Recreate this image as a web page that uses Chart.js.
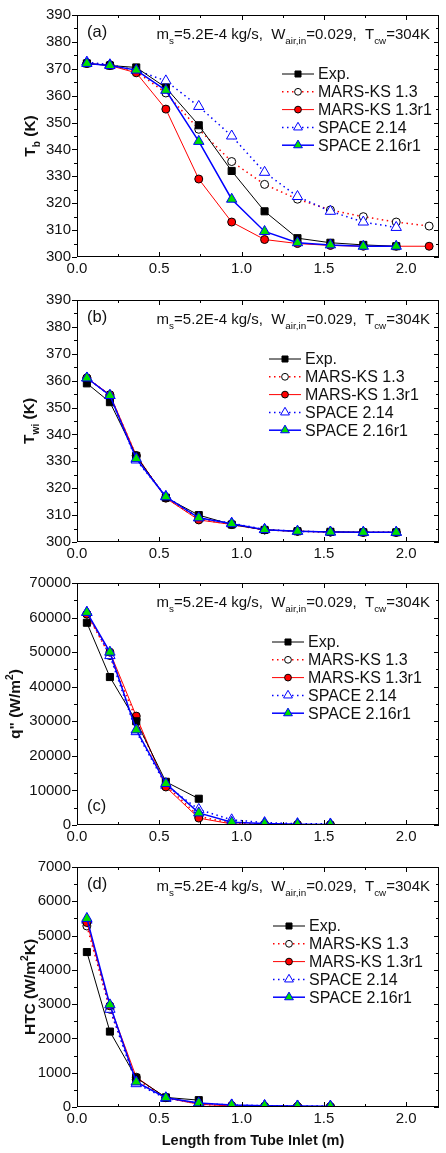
<!DOCTYPE html>
<html>
<head>
<meta charset="utf-8">
<script src="https://cdn.jsdelivr.net/npm/chart.js@4.4.1/dist/chart.umd.min.js"></script>
<style>
  body { margin: 0; background: #fff; }
  canvas { position: absolute; left: 0; }
</style>
</head>
<body>
<canvas id="chartA" width="446" height="284" style="top:0px"></canvas>
<canvas id="chartB" width="446" height="284" style="top:285px"></canvas>
<canvas id="chartC" width="446" height="284" style="top:568px"></canvas>
<canvas id="chartD" width="446" height="301" style="top:852px"></canvas>
<script>
// positions along the tube (m)
const lengths = [0.06, 0.2, 0.36, 0.54, 0.74, 0.94, 1.14, 1.34, 1.54, 1.74, 1.94, 2.14];
const xTicks = [0, 0.5, 1.0, 1.5, 2.0];
const seriesNames = ['Exp.', 'MARS-KS 1.3', 'MARS-KS 1.3r1', 'SPACE 2.14', 'SPACE 2.16r1'];

// (a) bulk temperature (K)
const tbExp = [372, 371.2, 370.5, 363, 349, 332, 317, 307, 305.3, 304.5, 304];
const tbMars13 = [372, 371.5, 369, 361, 347.5, 335.5, 327, 321.5, 317.5, 315, 313, 311.5];
const tbMars13r1 = [372, 371.2, 368.5, 355, 329, 313, 306.5, 305, 304.3, 304, 304, 304];
const tbSpace214 = [372.5, 371.5, 369.5, 365.5, 356, 345, 331.5, 322.5, 317, 313, 311];
const tbSpace216r1 = [372, 371.2, 369.5, 362, 343, 321.5, 309.5, 305.3, 304.5, 304, 304];

// (b) inner wall temperature (K)
const twExp = [359, 352, 332, 316.5, 310, 306.5, 304.5, 304, 303.8, 303.6, 303.6];
const twMars13 = [361, 354.5, 332, 316.5, 308.5, 306.5, 304.5, 304, 303.7, 303.6, 303.6];
const twMars13r1 = [361, 354.8, 332.2, 316.3, 308.2, 306.5, 304.5, 304, 303.7, 303.6, 303.6];
const twSpace214 = [361, 354.5, 330.5, 317, 309, 307, 304.7, 304, 303.7, 303.6, 303.6];
const twSpace216r1 = [361, 354.5, 331, 316.8, 309, 306.8, 304.6, 304, 303.7, 303.6, 303.6];

// (c) heat flux (W/m2)
const qExp = [58500, 42800, 30000, 12500, 7600];
const qMars13 = [61000, 49000, 30500, 11500, 2500, 500, 200, 100, 100];
const qMars13r1 = [61000, 50000, 31500, 11000, 2000, 300, 100, 50, 30];
const qSpace214 = [61500, 49000, 27000, 11500, 4500, 1500, 700, 400, 300];
const qSpace216r1 = [61500, 50000, 27500, 12000, 3500, 800, 400, 200, 150];

// (d) heat transfer coefficient (W/m2K)
const htcExp = [4520, 2200, 850, 280, 200];
const htcMars13 = [5280, 2850, 800, 280, 80, 40, 20, 10, 10];
const htcMars13r1 = [5380, 2950, 870, 270, 80, 30, 15, 10, 5];
const htcSpace214 = [5450, 2850, 680, 250, 110, 60, 40, 30, 25];
const htcSpace216r1 = [5500, 2980, 730, 270, 120, 60, 40, 30, 25];

const FONT = "'Liberation Sans', Arial, sans-serif";

// look of each series: line, marker, draw order
const styles = [
    { line: '#000', width: 1, dash: [], shape: 'rect', r: 5, fill: '#000', edge: '#000', order: 1 },
    { line: '#ff0000', width: 1.5, dash: [1.5, 3.5], shape: 'circle', r: 4, fill: '#fff', edge: '#000', order: 4 },
    { line: '#ff0000', width: 1, dash: [], shape: 'circle', r: 4, fill: '#ff0000', edge: '#000', order: 2 },
    { line: '#0000ff', width: 1.5, dash: [1.5, 3.5], shape: 'triangle', r: 6, fill: '#fff', edge: '#0000ff', order: 3 },
    { line: '#0000ff', width: 1.5, dash: [], shape: 'triangle', r: 6, fill: '#00e000', edge: '#0000ff', order: 0 }
];

function toPoints(values) {
    return values.map((v, i) => ({ x: lengths[i], y: v }));
}

// draw a marker the same way chart.js does
function drawMarker(ctx, shape, x, y, r, fill, edge) {
    ctx.beginPath();
    if (shape === 'rect') {
        const s = r * Math.SQRT1_2;
        ctx.rect(x - s, y - s, 2 * s, 2 * s);
    } else if (shape === 'triangle') {
        ctx.moveTo(x, y - r);
        ctx.lineTo(x + Math.sin(2 * Math.PI / 3) * r, y + r / 2);
        ctx.lineTo(x - Math.sin(2 * Math.PI / 3) * r, y + r / 2);
        ctx.closePath();
    } else {
        ctx.arc(x, y, r, 0, Math.PI * 2);
    }
    ctx.fillStyle = fill;
    ctx.fill();
    ctx.strokeStyle = edge;
    ctx.lineWidth = 1;
    ctx.setLineDash([]);
    ctx.stroke();
}

// text with sub / superscripts, parts = [[text, 'n'|'sub'|'sup'], ...]
function richWidth(ctx, parts, size, bold) {
    let w = 0;
    parts.forEach(p => {
        const s = p[1] === 'n' ? size : size * 0.66;
        ctx.font = (bold ? 'bold ' : '') + s + 'px ' + FONT;
        w += ctx.measureText(p[0]).width;
    });
    return w;
}

function drawRich(ctx, parts, x, y, size, bold) {
    ctx.textBaseline = 'alphabetic';
    ctx.textAlign = 'left';
    parts.forEach(p => {
        let s = size, dy = 0;
        if (p[1] === 'sub') { s = size * 0.66; dy = size * 0.3; }
        if (p[1] === 'sup') { s = size * 0.66; dy = -size * 0.42; }
        ctx.font = (bold ? 'bold ' : '') + s + 'px ' + FONT;
        ctx.fillText(p[0], x, y + dy);
        x += ctx.measureText(p[0]).width;
    });
}

const conditionText = [['m', 'n'], ['s', 'sub'], ['=5.2E-4 kg/s,  W', 'n'], ['air,in', 'sub'],
    ['=0.029,  T', 'n'], ['cw', 'sub'], ['=304K', 'n']];

// frame, inward ticks, labels and legend drawn on top of the chart
const panelDecor = {
    id: 'panelDecor',
    afterDraw(chart, args, opts) {
        const ctx = chart.ctx;
        const a = chart.chartArea;
        const xs = chart.scales.x;
        const ys = chart.scales.y;
        ctx.save();
        ctx.strokeStyle = '#000';
        ctx.lineWidth = 1;
        ctx.setLineDash([]);
        ctx.strokeRect(a.left + 0.5, a.top + 0.5, a.right - a.left - 1, a.bottom - a.top - 1);

        ctx.beginPath();
        for (let v = 0; v <= 2.2 + 1e-6; v += 0.25) {
            const px = Math.round(xs.getPixelForValue(v)) + 0.5;
            const len = Math.abs(v * 2 - Math.round(v * 2)) < 1e-6 ? 5 : 3;
            ctx.moveTo(px, a.bottom);
            ctx.lineTo(px, a.bottom - len);
            ctx.moveTo(px, a.top);
            ctx.lineTo(px, a.top + len);
        }
        const half = opts.step / 2;
        for (let v = ys.min; v <= ys.max + 1e-6; v += half) {
            const py = Math.round(ys.getPixelForValue(v)) + 0.5;
            const len = Math.round((v - ys.min) / half) % 2 === 0 ? 5 : 3;
            ctx.moveTo(a.left, py);
            ctx.lineTo(a.left - len, py);
            ctx.moveTo(a.right, py);
            ctx.lineTo(a.right - len, py);
        }
        ctx.stroke();

        ctx.fillStyle = '#111';
        // panel letter
        ctx.font = '16.5px ' + FONT;
        ctx.textAlign = 'left';
        ctx.textBaseline = 'alphabetic';
        ctx.fillText(opts.letter, a.left + 10, opts.letterBottom ? a.bottom - 14 : a.top + 22);

        // run conditions, right aligned
        const cw = richWidth(ctx, conditionText, 15, false);
        drawRich(ctx, conditionText, a.right - 9 - cw, a.top + 24, 15, false);

        // y axis title, rotated
        const tw = richWidth(ctx, opts.yTitle, 15.5, true);
        ctx.save();
        ctx.translate(opts.yTitleX, (a.top + a.bottom) / 2);
        ctx.rotate(-Math.PI / 2);
        drawRich(ctx, opts.yTitle, -tw / 2, 6, 15.5, true);
        ctx.restore();

        // x axis title on the last panel only
        if (opts.xTitle) {
            ctx.font = 'bold 14.5px ' + FONT;
            ctx.textAlign = 'center';
            ctx.textBaseline = 'middle';
            ctx.fillStyle = '#111';
            ctx.fillText(opts.xTitle, 253, a.bottom + 34);
        }

        // legend
        for (let i = 0; i < seriesNames.length; i++) {
            const st = styles[i];
            const y = a.top + 59 + i * 17.8;
            const x0 = opts.legendX;
            ctx.beginPath();
            ctx.strokeStyle = st.line;
            ctx.lineWidth = st.width;
            ctx.setLineDash(st.dash);
            ctx.moveTo(x0, y);
            ctx.lineTo(x0 + 32, y);
            ctx.stroke();
            ctx.setLineDash([]);
            drawMarker(ctx, st.shape, x0 + 16, y, st.r * 0.85, st.fill, st.edge);
            ctx.fillStyle = '#111';
            ctx.font = '16px ' + FONT;
            ctx.textAlign = 'left';
            ctx.textBaseline = 'middle';
            ctx.fillText(seriesNames[i], x0 + 36, y + 1);
        }
        ctx.restore();
    }
};

function makeChart(id, series, yMin, yMax, step, decor, bottomPad) {
    const datasets = series.map((values, i) => {
        const st = styles[i];
        return {
            label: seriesNames[i],
            data: toPoints(values),
            showLine: true,
            borderColor: st.line,
            borderWidth: st.width,
            borderDash: st.dash,
            tension: 0,
            pointStyle: st.shape,
            pointRadius: st.r,
            pointBackgroundColor: st.fill,
            pointBorderColor: st.edge,
            pointBorderWidth: 1,
            order: st.order
        };
    });
    decor.step = step;
    return new Chart(document.getElementById(id), {
        type: 'scatter',
        data: { datasets: datasets },
        options: {
            responsive: false,
            animation: false,
            events: [],
            layout: { padding: { top: 9, right: 0, left: 0, bottom: bottomPad } },
            scales: {
                x: {
                    type: 'linear',
                    min: 0,
                    max: 2.2,
                    grid: { display: false, drawTicks: false },
                    border: { display: false },
                    afterBuildTicks: scale => { scale.ticks = xTicks.map(v => ({ value: v })); },
                    ticks: {
                        padding: 3,
                        color: '#111',
                        font: { family: FONT, size: 15 },
                        maxRotation: 0,
                        autoSkip: false,
                        callback: v => v.toFixed(1)
                    },
                    afterFit: scale => { scale.height = 22; }
                },
                y: {
                    min: yMin,
                    max: yMax,
                    grid: { display: false, drawTicks: false },
                    border: { display: false },
                    ticks: {
                        stepSize: step,
                        padding: 6,
                        color: '#111',
                        font: { family: FONT, size: 15 },
                        callback: v => String(v)
                    },
                    afterFit: scale => { scale.width = 77; }
                }
            },
            plugins: {
                legend: { display: false },
                tooltip: { enabled: false },
                panelDecor: decor
            }
        },
        plugins: [panelDecor]
    });
}

makeChart('chartA', [tbExp, tbMars13, tbMars13r1, tbSpace214, tbSpace216r1], 300, 390, 10, {
    letter: '(a)', yTitle: [['T', 'n'], ['b', 'sub'], [' (K)', 'n']], yTitleX: 29, legendX: 282
}, 5);

makeChart('chartB', [twExp, twMars13, twMars13r1, twSpace214, twSpace216r1], 300, 390, 10, {
    letter: '(b)', yTitle: [['T', 'n'], ['wi', 'sub'], [' (K)', 'n']], yTitleX: 28, legendX: 269
}, 5);

makeChart('chartC', [qExp, qMars13, qMars13r1, qSpace214, qSpace216r1], 0, 70000, 10000, {
    letter: '(c)', letterBottom: true, yTitle: [['q" (W/m', 'n'], ['2', 'sup'], [')', 'n']], yTitleX: 14, legendX: 272
}, 5);

makeChart('chartD', [htcExp, htcMars13, htcMars13r1, htcSpace214, htcSpace216r1], 0, 7000, 1000, {
    letter: '(d)', yTitle: [['HTC (W/m', 'n'], ['2', 'sup'], ['K)', 'n']], yTitleX: 29, legendX: 273,
    xTitle: 'Length from Tube Inlet (m)'
}, 24);
</script>
</body>
</html>
